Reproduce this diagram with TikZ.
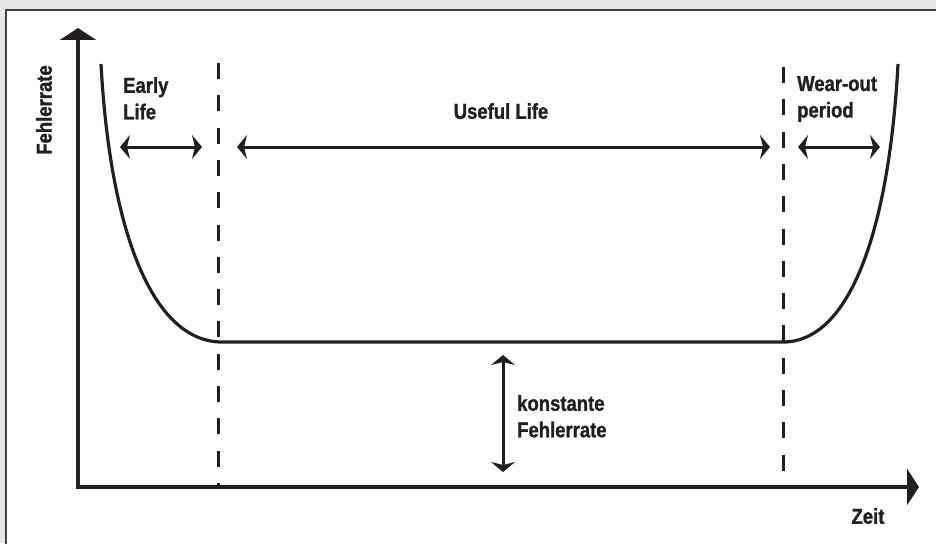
\documentclass[tikz,border=0pt]{standalone}
\usepackage{fontspec}
\setmainfont{Liberation Sans}[FakeStretch=0.86, BoldFeatures={FakeBold=1.2}]
\usetikzlibrary{arrows.meta,positioning}
\definecolor{ink}{HTML}{231F20}
\definecolor{frameBg}{HTML}{E6E7E8}

\begin{document}
\begin{tikzpicture}[
            x=1pt, y=-1pt,
            axis/.style={
                    draw=ink,
                    line width=4.5pt,
                    line join=miter,
                    {Triangle[length=12pt,width=36pt]}-{Triangle[length=12pt,width=36pt]}
                },
            divider/.style={
                    draw=ink,
                    line width=3pt,
                    dash pattern=on 16pt off 16.3pt
                },
            curve/.style={
                    draw=ink,
                    line width=3.2pt
                },
            span/.style={
                    {Stealth[length=10pt,width=24pt,inset=3pt]}-{Stealth[length=10pt,width=24pt,inset=3pt]},
                    draw=ink,
                    line width=3pt
                },
            labelText/.style={
                    font=\bfseries\fontsize{21.5}{26.5}\selectfont,
                    text=ink,
                    inner sep=0pt,
                    align=left
                }
            ]

            % Hintergrund und Rahmen
            \useasboundingbox (0,0) rectangle (936,543);
            \fill[frameBg] (0,0) rectangle (936,543);
            \draw[fill=white, draw=ink!85, line width=1.5pt] (6,10) rectangle (950,560);

            % 1. Achsen
            \coordinate (yTop) at (78,28);
            \coordinate (origin) at (78,487);
            \coordinate (xEnd) at (919,487);
            \draw[axis] (yTop) -- (origin) -- (xEnd);

            % 2. Trennlinien der Phasen
            \coordinate (earlyTop) at (218,63);
            \coordinate (earlyBot) at (218,487);
            \coordinate (wearTop) at (783,67);
            \coordinate (wearBot) at (783,487);
            \draw[divider] (earlyTop) -- (earlyBot);
            \draw[divider] (wearTop) -- (wearBot);

            % 3. Badewannenkurve
            \coordinate (curveStart) at (101,64);
            \coordinate (flatStart) at (222,342);
            \coordinate (flatEnd) at (783,342);
            \coordinate (curveEnd) at (898,64);
            \draw[curve] (curveStart) .. controls (110,230) and (152,342) .. (flatStart)
                -- (flatEnd) .. controls (850,342) and (889,230) .. (curveEnd);

            % 4. Beschriftungen
            \node[labelText, rotate=90] (yLabel) at (44,110) {Fehlerrate};
            \node[labelText, anchor=north west] (earlyLabel) at (123,77) {Early\\Life};
            \node[labelText, anchor=north] (usefulLabel) at (501,103) {Useful Life};
            \node[labelText, anchor=north west] (wearLabel) at (797,76) {Wear-out\\period};
            \node[labelText, anchor=north west] (constLabel) at (517,395) {konstante\\Fehlerrate};
            \node[labelText, anchor=north] (xLabel) at (868,508) {Zeit};

            % --- PFEILE ---
            \coordinate (earlyL) at (120,147);
            \coordinate (earlyR) at (202,147);
            \coordinate (usefulL) at (237,147);
            \coordinate (usefulR) at (770,147);
            \coordinate (wearL) at (798,147);
            \coordinate (wearR) at (880,147);
            \coordinate (constTop) at (503,355);
            \coordinate (constBot) at (503,472);

            \draw[span] (earlyL) -- (earlyR);
            \draw[span] (usefulL) -- (usefulR);
            \draw[span] (wearL) -- (wearR);
            \draw[span] (constTop) -- (constBot);

        \end{tikzpicture}
\end{document}
